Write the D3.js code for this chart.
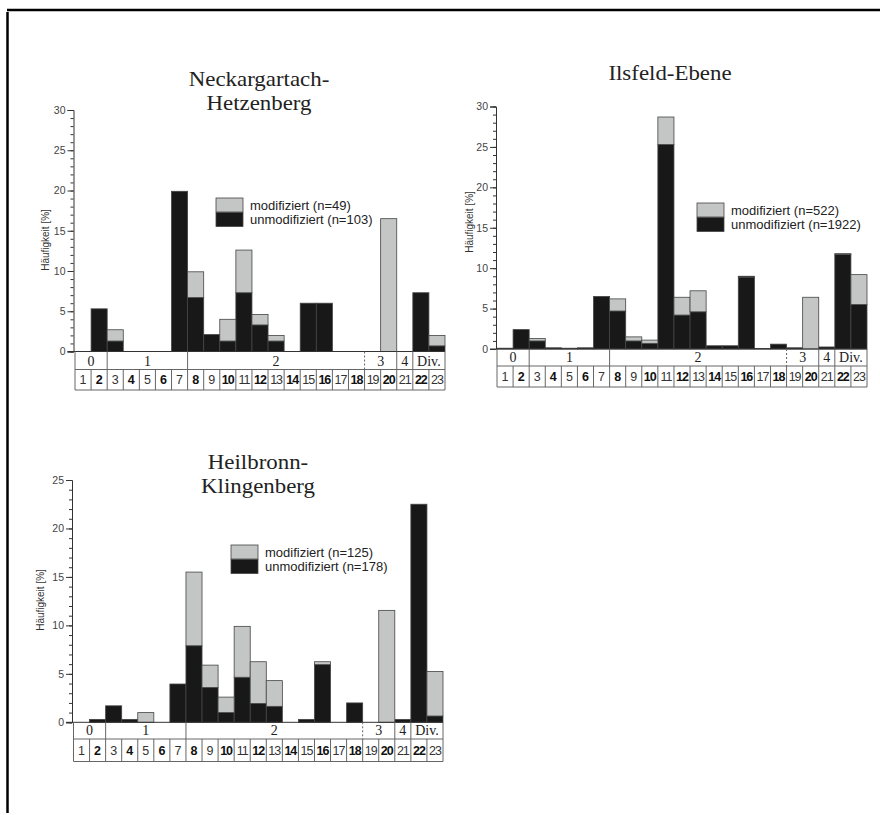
<!DOCTYPE html>
<html lang="de">
<head>
<meta charset="UTF-8">
<title>Häufigkeit modifiziert / unmodifiziert</title>
<script src="https://cdnjs.cloudflare.com/ajax/libs/d3/7.8.5/d3.min.js"></script>
<style>
    body { margin: 0; background: #fff; }
    svg { display: block; }
    .num { font-family: "Liberation Sans", Arial, sans-serif; font-size: 12.5px; }
    .grp { font-family: "Liberation Serif", "Times New Roman", serif; font-size: 14px; fill: #222; }
    .title { font-family: "Liberation Serif", "Times New Roman", serif; font-size: 21px; fill: #222; }
    .leg { font-family: "Liberation Sans", Arial, sans-serif; font-size: 13px; fill: #222; }
    .ylab { font-family: "Liberation Sans", Arial, sans-serif; font-size: 10px; fill: #333; }
    .yaxis text { font-family: "Liberation Sans", Arial, sans-serif; font-size: 10.5px; fill: #444; }
</style>
</head>
<body>
<div id="chart"></div>
<script>
// Kategorien (Nummern) und Gruppen
const categories = ["1","2","3","4","5","6","7","8","9","10","11","12","13","14","15","16","17","18","19","20","21","22","23"];
const groupLabels = ["0", "1", "2", "3", "4", "Div."];
const groupFirst = ["1", "3", "8", "19", "21", "22"];
const groupLast = ["2", "7", "18", "20", "21", "23"];

// Neckargartach-Hetzenberg
const neckUnmod = [0, 5.3, 1.3, 0, 0, 0, 19.9, 6.7, 2.1, 1.3, 7.3, 3.3, 1.3, 0, 6.0, 6.0, 0, 0, 0, 0, 0, 7.3, 0.7];
const neckMod   = [0, 0, 1.4, 0, 0, 0, 0, 3.2, 0, 2.7, 5.3, 1.3, 0.7, 0, 0, 0, 0, 0, 0, 16.5, 0, 0, 1.3];

// Ilsfeld-Ebene
const ilsUnmod = [0.1, 2.4, 1.0, 0.15, 0.1, 0.15, 6.5, 4.7, 1.0, 0.7, 25.3, 4.2, 4.6, 0.4, 0.4, 8.9, 0.05, 0.6, 0.15, 0, 0.25, 11.7, 5.5];
const ilsMod   = [0, 0, 0.3, 0, 0, 0, 0, 1.5, 0.5, 0.4, 3.4, 2.2, 2.6, 0, 0, 0.1, 0, 0, 0, 6.4, 0, 0.1, 3.7];

// Heilbronn-Klingenberg
const heilUnmod = [0, 0.3, 1.7, 0.3, 0, 0, 3.95, 7.9, 3.6, 1.0, 4.65, 1.95, 1.65, 0, 0.3, 5.95, 0, 2.0, 0, 0, 0.3, 22.5, 0.65];
const heilMod   = [0, 0, 0, 0, 1.0, 0, 0, 7.6, 2.3, 1.6, 5.25, 4.3, 2.65, 0, 0, 0.3, 0, 0, 0, 11.55, 0, 0, 4.6];

const W = 880, H = 815;
const svg = d3.select('#chart').append('svg')
    .attr('width', W)
    .attr('height', H);

// Rahmen
svg.append('line').attr('x1', 7).attr('x2', W).attr('y1', 10).attr('y2', 10)
    .attr('stroke', '#000').attr('stroke-width', 2.5);
svg.append('line').attr('x1', 7.5).attr('x2', 7.5).attr('y1', 12).attr('y2', H - 2)
    .attr('stroke', '#000').attr('stroke-width', 2.5);

function drawPanel(p) {
    const g = svg.append('g');

    const x = d3.scaleBand()
        .domain(categories)
        .range([p.x0, p.x1])
        .padding(0);

    const y = d3.scaleLinear()
        .domain([0, p.yMax])
        .range([p.yZero, p.yTop]);

    const rows = categories.map((c, i) => ({ cat: c, unmod: p.unmod[i], mod: p.mod[i] }));

    // Balken: unmodifiziert unten, modifiziert darauf
    g.selectAll('rect.unmod')
        .data(rows.filter(d => d.unmod > 0))
        .enter().append('rect')
        .attr('class', 'unmod')
        .attr('x', d => x(d.cat))
        .attr('y', d => y(d.unmod))
        .attr('width', x.bandwidth())
        .attr('height', d => y(0) - y(d.unmod))
        .attr('fill', '#181818')
        .attr('stroke', '#444')
        .attr('stroke-width', 0.8);

    g.selectAll('rect.mod')
        .data(rows.filter(d => d.mod > 0))
        .enter().append('rect')
        .attr('class', 'mod')
        .attr('x', d => x(d.cat))
        .attr('y', d => y(d.unmod + d.mod))
        .attr('width', x.bandwidth())
        .attr('height', d => y(d.unmod) - y(d.unmod + d.mod))
        .attr('fill', '#c4c6c6')
        .attr('stroke', '#444')
        .attr('stroke-width', 0.8);

    // Y-Achse
    const ax = g.append('g')
        .attr('class', 'yaxis')
        .attr('transform', `translate(${p.axisX},0)`)
        .call(d3.axisLeft(y).tickValues(d3.range(0, p.yMax + 1, 5)).tickSize(6).tickPadding(2));
    ax.select('.domain').attr('stroke', '#333');
    ax.selectAll('.tick line').attr('stroke', '#333');
    g.append('g')
        .attr('transform', `translate(${p.axisX},0)`)
        .call(d3.axisLeft(y).ticks(p.yMax).tickSize(3).tickFormat(''))
        .call(a => a.select('.domain').remove())
        .selectAll('.tick line').attr('stroke', '#333');

    // Achsentitel
    g.append('text')
        .attr('class', 'ylab')
        .attr('transform', `translate(${p.ylabX},${p.ylabY}) rotate(-90)`)
        .attr('text-anchor', 'middle')
        .text('Häufigkeit [%]');

    // Nulllinie / Tabellenkopf
    g.append('line')
        .attr('x1', p.axisX - 6).attr('x2', p.x1)
        .attr('y1', p.yZero).attr('y2', p.yZero)
        .attr('stroke', '#333');

    // Gruppenzeile
    const gy0 = p.yZero, gy1 = p.groupBottom, ny1 = p.numBottom;
    groupLabels.forEach((lab, i) => {
        const gx0 = x(groupFirst[i]);
        const gx1 = x(groupLast[i]) + x.bandwidth();
        g.append('text')
            .attr('class', 'grp')
            .attr('x', (gx0 + gx1) / 2)
            .attr('y', gy1 - 4)
            .attr('text-anchor', 'middle')
            .text(lab);
        g.append('line')
            .attr('x1', gx0).attr('x2', gx0)
            .attr('y1', gy0).attr('y2', gy1)
            .attr('stroke', '#666')
            .attr('stroke-dasharray', lab === '3' ? '2,2' : null);
    });
    g.append('line')
        .attr('x1', p.x1).attr('x2', p.x1)
        .attr('y1', gy0).attr('y2', ny1)
        .attr('stroke', '#666');
    g.append('line')
        .attr('x1', p.x0).attr('x2', p.x1)
        .attr('y1', gy1).attr('y2', gy1)
        .attr('stroke', '#666');
    g.append('line')
        .attr('x1', p.x0).attr('x2', p.x1)
        .attr('y1', ny1).attr('y2', ny1)
        .attr('stroke', '#666');

    // Nummernzeile
    g.selectAll('line.cell')
        .data(categories)
        .enter().append('line')
        .attr('class', 'cell')
        .attr('x1', d => x(d)).attr('x2', d => x(d))
        .attr('y1', gy1).attr('y2', ny1)
        .attr('stroke', '#666');
    g.selectAll('text.num')
        .data(categories)
        .enter().append('text')
        .attr('class', 'num')
        .attr('x', d => x(d) + x.bandwidth() / 2)
        .attr('y', (gy1 + ny1) / 2 + 4.5)
        .attr('text-anchor', 'middle')
        .attr('font-weight', d => (+d % 2 === 0) ? 'bold' : 'normal')
        .attr('fill', d => (+d % 2 === 0) ? '#111' : '#333')
        .attr('letter-spacing', d => d.length > 1 ? -1 : 0)
        .text(d => d);

    // Titel (etwas breiter gezogen wie im Original)
    p.title.forEach((t, i) => {
        const ty = p.titleY + i * 24;
        g.append('text')
            .attr('class', 'title')
            .attr('transform', `translate(${p.titleX},${ty}) scale(1.09,1)`)
            .attr('text-anchor', 'middle')
            .text(t);
    });

    // Legende
    const legend = [
        { label: `modifiziert (n=${p.nMod})`, fill: '#c4c6c6' },
        { label: `unmodifiziert (n=${p.nUnmod})`, fill: '#181818' }
    ];
    legend.forEach((d, i) => {
        g.append('rect')
            .attr('x', p.legX).attr('y', p.legY + i * 14.5)
            .attr('width', 27).attr('height', 14)
            .attr('fill', d.fill)
            .attr('stroke', '#444')
            .attr('stroke-width', 0.8);
        g.append('text')
            .attr('class', 'leg')
            .attr('x', p.legX + 34)
            .attr('y', p.legY + i * 14.5 + 11.5)
            .text(d.label);
    });
}

drawPanel({
    unmod: neckUnmod, mod: neckMod, yMax: 30,
    x0: 75, x1: 445, axisX: 73.5, yZero: 351.5, yTop: 110,
    groupBottom: 369.5, numBottom: 390,
    ylabX: 49, ylabY: 240,
    title: ['Neckargartach-', 'Hetzenberg'], titleX: 259, titleY: 86,
    legX: 216, legY: 198, nMod: 49, nUnmod: 103
});

drawPanel({
    unmod: ilsUnmod, mod: ilsMod, yMax: 30,
    x0: 497, x1: 867, axisX: 496, yZero: 349, yTop: 106.5,
    groupBottom: 366, numBottom: 387,
    ylabX: 473, ylabY: 222,
    title: ['Ilsfeld-Ebene'], titleX: 670, titleY: 80,
    legX: 697, legY: 203, nMod: 522, nUnmod: 1922
});

drawPanel({
    unmod: heilUnmod, mod: heilMod, yMax: 25,
    x0: 73.5, x1: 443, axisX: 72, yZero: 722.3, yTop: 480,
    groupBottom: 739, numBottom: 761.5,
    ylabX: 44, ylabY: 600,
    title: ['Heilbronn-', 'Klingenberg'], titleX: 258, titleY: 469,
    legX: 231, legY: 545, nMod: 125, nUnmod: 178
});
</script>
</body>
</html>
